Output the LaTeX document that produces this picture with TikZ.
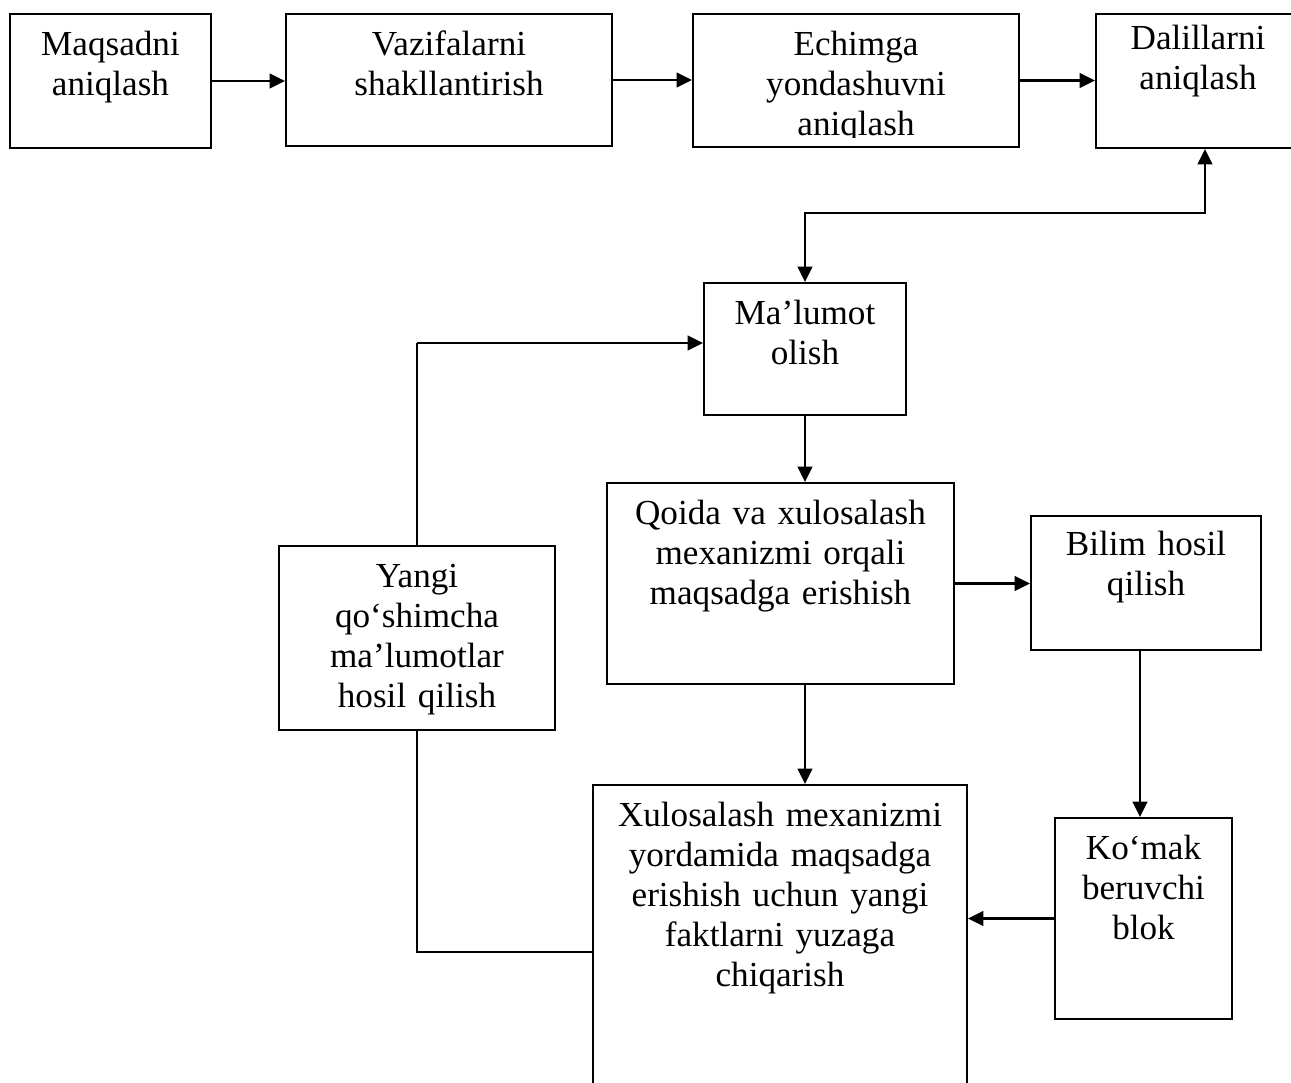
\documentclass[tikz,border=0pt]{standalone}
\usepackage{fontspec}
\setmainfont{Liberation Serif}
\usetikzlibrary{arrows.meta}
\tikzset{
	blok/.style={draw, line width=1.1pt, inner sep=0pt},
	matn/.style={anchor=base, align=center, text width=8cm, inner sep=0pt, font=\fontsize{20}{22.8}\selectfont},
	strelka/.style={line width=1.6pt, ->},
	chiziq/.style={line width=1.1pt},
	>={Triangle[length=0.31cm,width=0.29cm]}
}

\begin{document}
\begin{tikzpicture}[x=0.02cm, y=-0.02cm]
		%%%%% START %%%%%
		\clip (0,0) rectangle (1291,1082);
		\fill[white] (0,0) rectangle (1291,1082);
		
		% top row
		\node[blok, minimum width=4.02cm, minimum height=2.68cm] (maq) at (110.5,81) {};
		\node[blok, minimum width=6.52cm, minimum height=2.64cm] (vaz) at (449,80) {};
		\node[blok, minimum width=6.52cm, minimum height=2.66cm] (ech) at (856,80.5) {};
		\node[blok, minimum width=4.08cm, minimum height=2.68cm] (dal) at (1198,81) {};
		
		\node[matn] at ([yshift=-0.84cm]maq.north) {Maqsadni\\aniqlash};
		\node[matn] at ([yshift=-0.84cm]vaz.north) {Vazifalarni\\shakllantirish};
		\begin{scope}
			\clip (693,14) rectangle (1019,137);
			\node[matn] at ([yshift=-0.84cm]ech.north) {Echimga\\yondashuvni\\aniqlash};
		\end{scope}
		\node[matn] at ([yshift=-0.72cm]dal.north) {Dalillarni\\aniqlash};
		
		% middle
		\node[blok, minimum width=4.04cm, minimum height=2.64cm] (mal) at (805,349) {};
		\node[blok, minimum width=6.94cm, minimum height=4.02cm] (qoida) at (780.5,583.5) {};
		\node[blok, minimum width=4.6cm, minimum height=2.68cm] (bilim) at (1146,583) {};
		\node[blok, minimum width=5.52cm, minimum height=3.68cm] (yangi) at (417,638) {};
		
		\node[matn] at ([yshift=-0.84cm]mal.north) {Ma’lumot\\olish};
		\node[matn] at ([yshift=-0.84cm]qoida.north) {Qoida va xulosalash\\mexanizmi orqali\\maqsadga erishish};
		\node[matn] at ([yshift=-0.8cm]bilim.north) {Bilim hosil\\qilish};
		\node[matn] at ([yshift=-0.84cm]yangi.north) {Yangi\\qo‘shimcha\\ma’lumotlar\\hosil qilish};
		
		% bottom
		\node[blok, minimum width=7.48cm, minimum height=6.1cm] (xul) at (780,937.5) {};
		\node[blok, minimum width=3.54cm, minimum height=4.02cm] (komak) at (1143.5,918.5) {};
		
		\node[matn] at ([yshift=-0.84cm]xul.north) {Xulosalash mexanizmi\\yordamida maqsadga\\erishish uchun yangi\\faktlarni yuzaga\\chiqarish};
		\node[matn] at ([yshift=-0.84cm]komak.north) {Ko‘mak\\beruvchi\\blok};
		
		% arrows
		\draw[strelka] (maq.east) -- (maq.east -| vaz.west);
		\draw[strelka] (vaz.east) -- (vaz.east -| ech.west);
		\draw[strelka] (ech.east) -- (ech.east -| dal.west);
		
		\coordinate (tirsak) at (1205,213);
		\draw[strelka, <->] (tirsak |- dal.south) -- (tirsak) -| (mal.north);
		
		\draw[strelka] (mal.south) -- (mal.south |- qoida.north);
		\draw[strelka] (qoida.east) -- (qoida.east -| bilim.west);
		\draw[strelka] (mal.south |- qoida.south) -- (mal.south |- xul.north);
		
		\coordinate (pastga) at (1140,600);
		\draw[strelka] (pastga |- bilim.south) -- (pastga |- komak.north);
		\draw[strelka] (komak.west) -- (komak.west -| xul.east);
		
		\coordinate (kirish) at (418,343);
		\draw[chiziq] (yangi.north) -- (yangi.north |- kirish);
		\draw[strelka] (yangi.north |- kirish) -- (kirish -| mal.west);
		\coordinate (qaytish) at (418,952);
		\draw[chiziq] (yangi.south) -- (yangi.south |- qaytish) -- (qaytish -| xul.west);
		
		%%%%% END %%%%%
\end{tikzpicture}
\end{document}
